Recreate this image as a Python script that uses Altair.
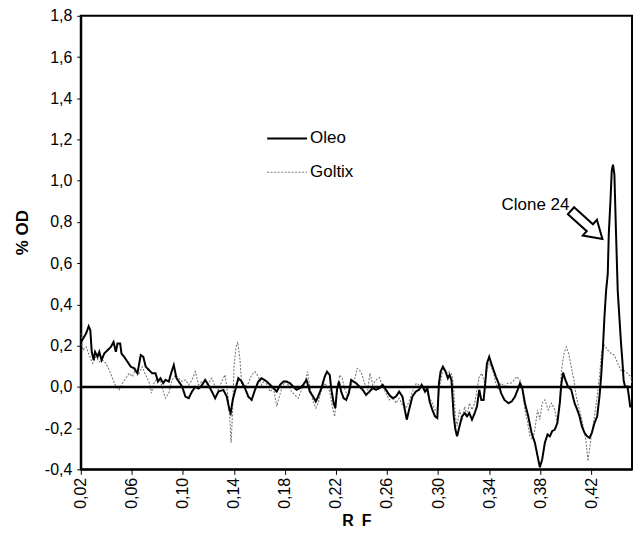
import altair as alt
import pandas as pd

# ---- data ----
oleo_x = [0.0200, 0.0203, 0.0242, 0.0262, 0.0275, 0.0286, 0.0301, 0.0312, 0.0332, 0.0345,
          0.0363, 0.0384, 0.0410, 0.0436, 0.0457, 0.0475, 0.0488, 0.0509, 0.0519, 0.0540,
          0.0566, 0.0592, 0.0618, 0.0644, 0.0670, 0.0690, 0.0709, 0.0734, 0.0760, 0.0786,
          0.0805, 0.0825, 0.0846, 0.0864, 0.0890, 0.0908, 0.0929, 0.0950, 0.0968, 0.0994,
          0.1020, 0.1046, 0.1072, 0.1098, 0.1123, 0.1149, 0.1175, 0.1201, 0.1227, 0.1253,
          0.1279, 0.1318, 0.1344, 0.1365, 0.1375, 0.1391, 0.1417, 0.1435, 0.1461, 0.1487,
          0.1513, 0.1539, 0.1565, 0.1591, 0.1617,
          0.1658, 0.1684, 0.1710, 0.1736, 0.1762, 0.1788, 0.1814, 0.1839, 0.1865, 0.1891,
          0.1917, 0.1943, 0.1969, 0.1995, 0.2021, 0.2042, 0.2060, 0.2086, 0.2112, 0.2130,
          0.2151, 0.2164, 0.2182, 0.2195, 0.2208, 0.2223, 0.2241, 0.2260, 0.2280, 0.2301,
          0.2319, 0.2337, 0.2358, 0.2384, 0.2410, 0.2436, 0.2462, 0.2488, 0.2514, 0.2540,
          0.2566, 0.2592, 0.2618, 0.2644, 0.2670, 0.2695, 0.2721, 0.2742, 0.2755, 0.2773,
          0.2799, 0.2825, 0.2851, 0.2872, 0.2898, 0.2916, 0.2934, 0.2955, 0.2976, 0.2994,
          0.3007, 0.3020, 0.3038, 0.3059, 0.3077, 0.3090, 0.3105,
          0.3123, 0.3136, 0.3149, 0.3168, 0.3188, 0.3209, 0.3227, 0.3245, 0.3266, 0.3287,
          0.3305, 0.3323, 0.3339, 0.3357, 0.3370, 0.3383, 0.3401, 0.3417, 0.3435, 0.3453,
          0.3474, 0.3494, 0.3520, 0.3552, 0.3577, 0.3603, 0.3624, 0.3642, 0.3660, 0.3681,
          0.3707, 0.3733, 0.3759, 0.3780, 0.3798, 0.3816, 0.3837, 0.3858, 0.3876, 0.3894,
          0.3915, 0.3935, 0.3954, 0.3967, 0.3980, 0.3998, 0.4018, 0.4044, 0.4070, 0.4091,
          0.4109, 0.4127, 0.4148, 0.4169, 0.4187, 0.4205, 0.4226, 0.4247, 0.4265, 0.4278,
          0.4291, 0.4304, 0.4317, 0.4330, 0.4338, 0.4351, 0.4361, 0.4371, 0.4382, 0.4395,
          0.4408, 0.4421, 0.4434, 0.4446, 0.4454, 0.4465, 0.4485, 0.4506, 0.4520]
oleo_y = [0.210, 0.218, 0.260, 0.294, 0.275, 0.170, 0.130, 0.170, 0.146, 0.170,
          0.130, 0.162, 0.178, 0.194, 0.218, 0.170, 0.210, 0.210, 0.162, 0.146,
          0.122, 0.098, 0.090, 0.066, 0.154, 0.146, 0.098, 0.082, 0.066, 0.066,
          0.026, 0.042, 0.018, 0.034, 0.026, 0.066, 0.106, 0.042, 0.026, 0.002,
          -0.047, -0.055, -0.022, 0.000, -0.008, 0.008, 0.034, 0.008, -0.022, -0.055,
          -0.022, -0.015, -0.047, -0.111, -0.127, -0.063, 0.000, 0.042, 0.026, -0.006,
          -0.047, -0.063, -0.015, 0.026, 0.042,
          0.026, 0.010, -0.006, -0.023, 0.010, 0.026, 0.026, 0.018, 0.002, -0.014,
          -0.006, 0.010, 0.034, -0.023, -0.047, -0.071, -0.047, -0.006, 0.050, 0.074,
          0.058, -0.014, -0.079, -0.103, -0.014, 0.026, -0.023, -0.055, -0.063, -0.030,
          0.034, 0.026, 0.018, 0.002, -0.014, -0.039, -0.023, -0.006, -0.014, -0.006,
          0.010, -0.014, -0.039, -0.055, -0.047, -0.023, -0.047, -0.119, -0.159, -0.111,
          -0.047, -0.023, -0.014, 0.010, -0.023, -0.006, -0.071, -0.111, -0.143, -0.151,
          0.018, 0.074, 0.098, 0.074, 0.042, 0.058, 0.034,
          -0.143, -0.207, -0.240, -0.191, -0.143, -0.127, -0.143, -0.127, -0.159, -0.127,
          -0.095, -0.014, -0.063, -0.063, 0.018, 0.114, 0.146, 0.114, 0.082, 0.050,
          0.018, -0.030, -0.063, -0.079, -0.071, -0.047, -0.014, 0.018, -0.006, -0.079,
          -0.143, -0.223, -0.271, -0.336, -0.390, -0.352, -0.271, -0.231, -0.240, -0.215,
          -0.207, -0.175, -0.079, 0.018, 0.069, 0.034, 0.002, -0.014, -0.079, -0.111,
          -0.143, -0.191, -0.223, -0.240, -0.247, -0.223, -0.175, -0.143, -0.047, 0.050,
          0.178, 0.339, 0.467, 0.548, 0.741, 0.901, 1.046, 1.078, 1.030, 0.741,
          0.467, 0.339, 0.211, 0.114, 0.034, 0.002, 0.002, -0.095, -0.095]

goltix_x = [0.0200, 0.0216, 0.0242, 0.0267, 0.0293, 0.0319, 0.0345, 0.0371, 0.0397, 0.0423,
            0.0449, 0.0475, 0.0501, 0.0527, 0.0553, 0.0579, 0.0605, 0.0631, 0.0657, 0.0682,
            0.0708, 0.0734, 0.0753, 0.0773, 0.0799, 0.0825, 0.0846, 0.0864, 0.0890, 0.0916,
            0.0942, 0.0968, 0.0994, 0.1020, 0.1046, 0.1072, 0.1098, 0.1123, 0.1149, 0.1175,
            0.1201, 0.1227, 0.1253, 0.1279, 0.1305, 0.1331, 0.1357, 0.1370, 0.1378, 0.1388,
            0.1401, 0.1417, 0.1430, 0.1448, 0.1461, 0.1487, 0.1513, 0.1539, 0.1565, 0.1591,
            0.1617, 0.1642,
            0.1658, 0.1684, 0.1710, 0.1736, 0.1749, 0.1775, 0.1801, 0.1826, 0.1852, 0.1878,
            0.1904, 0.1930, 0.1956, 0.1977, 0.1995, 0.2021, 0.2042, 0.2060, 0.2086, 0.2112,
            0.2130, 0.2151, 0.2171, 0.2190, 0.2208, 0.2229, 0.2249, 0.2267, 0.2293, 0.2319,
            0.2345, 0.2366, 0.2384, 0.2405, 0.2423, 0.2449, 0.2467, 0.2488, 0.2514, 0.2540,
            0.2566, 0.2592, 0.2618, 0.2644, 0.2670, 0.2695, 0.2721, 0.2747, 0.2773, 0.2799,
            0.2830, 0.2851, 0.2877, 0.2903, 0.2929, 0.2955, 0.2976, 0.2994, 0.3012, 0.3033,
            0.3053, 0.3072, 0.3090, 0.3110,
            0.3123, 0.3136, 0.3149, 0.3168, 0.3188, 0.3209, 0.3227, 0.3245, 0.3266, 0.3287,
            0.3305, 0.3323, 0.3344, 0.3365, 0.3383, 0.3401, 0.3417, 0.3435, 0.3453, 0.3474,
            0.3494, 0.3520, 0.3546, 0.3572, 0.3598, 0.3616, 0.3642, 0.3660, 0.3681, 0.3702,
            0.3720, 0.3741, 0.3759, 0.3780, 0.3798, 0.3816, 0.3837, 0.3863, 0.3889, 0.3915,
            0.3935, 0.3954, 0.3967, 0.3987, 0.4005, 0.4024, 0.4044, 0.4065, 0.4083, 0.4101,
            0.4122, 0.4143, 0.4161, 0.4174, 0.4187, 0.4205, 0.4226, 0.4247, 0.4265, 0.4283,
            0.4304, 0.4330, 0.4356, 0.4382, 0.4408, 0.4434, 0.4459, 0.4485, 0.4511, 0.4520]
goltix_y = [0.260, 0.178, 0.194, 0.154, 0.114, 0.146, 0.122, 0.130, 0.114, 0.082,
            0.042, 0.002, -0.014, 0.018, 0.042, 0.066, 0.050, 0.090, 0.066, 0.098,
            0.058, 0.026, -0.030, 0.018, 0.042, 0.026, -0.022, -0.055, -0.030, 0.034,
            0.058, 0.042, 0.026, 0.034, 0.010, 0.034, 0.074, 0.010, 0.026, 0.002,
            0.018, 0.042, 0.002, -0.014, 0.026, 0.058, -0.063, -0.175, -0.271, -0.143,
            0.098, 0.194, 0.218, 0.130, 0.010, 0.002, 0.018, 0.058, 0.074, 0.050,
            0.010, 0.034,
            0.010, -0.023, -0.006, -0.095, -0.063, -0.006, 0.026, 0.010, -0.023, -0.039,
            -0.055, -0.014, 0.018, 0.074, 0.002, -0.071, -0.103, -0.079, -0.014, 0.018,
            0.002, -0.023, -0.095, -0.144, -0.030, 0.058, 0.042, -0.006, -0.047, 0.010,
            0.034, 0.090, 0.082, 0.058, 0.018, -0.014, 0.066, 0.010, 0.034, 0.045,
            0.002, -0.030, -0.063, -0.047, -0.079, -0.055, -0.087, -0.103, -0.071, -0.023,
            0.018, 0.010, 0.002, -0.014, -0.047, -0.079, -0.112, -0.103, 0.002, 0.066,
            0.082, 0.066, 0.074, 0.058,
            -0.014, -0.143, -0.191, -0.111, -0.159, -0.095, -0.143, -0.079, -0.111, -0.079,
            -0.014, 0.050, 0.066, 0.018, 0.082, 0.114, 0.098, 0.066, 0.018, -0.014,
            0.018, 0.002, 0.018, 0.018, 0.034, 0.050, 0.034, -0.014, -0.111, -0.175,
            -0.240, -0.255, -0.207, -0.111, -0.159, -0.079, -0.063, -0.111, -0.079, -0.111,
            -0.175, -0.063, 0.079, 0.162, 0.194, 0.162, 0.098, 0.034, -0.047, -0.095,
            -0.143, -0.207, -0.271, -0.360, -0.304, -0.223, -0.143, -0.047, 0.050, 0.178,
            0.202, 0.178, 0.162, 0.154, 0.114, 0.079, 0.079, 0.066, 0.050, 0.018]

series_names = ["Oleo", "Goltix"]
x_ticks = [0.02, 0.04, 0.06, 0.08, 0.10, 0.12, 0.14, 0.16, 0.18, 0.20, 0.22,
           0.24, 0.26, 0.28, 0.30, 0.32, 0.34, 0.36, 0.38, 0.40, 0.42, 0.44]
y_ticks = [-0.4, -0.2, 0.0, 0.2, 0.4, 0.6, 0.8, 1.0, 1.2, 1.4, 1.6, 1.8]
x_domain = [0.02, 0.452]
y_domain = [-0.4, 1.8]

annot_label = ["Clone 24"]
annot_x = [0.4029]
annot_y = [0.884]
arrow_x = [0.4165]
arrow_y = [0.786]

FONT = "Liberation Sans"

df = pd.DataFrame({
    "rf": goltix_x + oleo_x,
    "od": goltix_y + oleo_y,
    "serie": ["Goltix"] * len(goltix_x) + ["Oleo"] * len(oleo_x),
})

x_scale = alt.Scale(domain=x_domain, nice=False, zero=False)
y_scale = alt.Scale(domain=y_domain, nice=False, zero=False)

x_axis = alt.Axis(
    values=x_ticks,
    labelExpr="(round(datum.value*100) % 4 == 2) ? replace(format(datum.value, '.2f'), '.', ',') : ''",
    labelAngle=270, labelOverlap=False, labelFlush=False, labelPadding=3,
    tickSize=5, title="R\u2002F", titlePadding=4, titleFontSize=16,
)
y_axis = alt.Axis(
    values=y_ticks,
    labelExpr="(datum.value < -0.0001 ? '-' : '') + replace(format(abs(datum.value), '.1f'), '.', ',')",
    labelOverlap=False, labelFlush=False, labelPadding=5, tickSize=4,
    title="% OD", titleAngle=270, titleX=-58, titleY=217,
    titleAlign="center", titleBaseline="middle",
)

leg = alt.Legend(title=None)

lines = alt.Chart(df).mark_line(interpolate="linear", clip=True).encode(
    x=alt.X("rf:Q", scale=x_scale, axis=x_axis),
    y=alt.Y("od:Q", scale=y_scale, axis=y_axis),
    color=alt.Color("serie:N", scale=alt.Scale(domain=series_names, range=["#000000", "#7a7a7a"]), legend=leg),
    strokeDash=alt.StrokeDash("serie:N", scale=alt.Scale(domain=series_names, range=[[1, 0], [2, 1.5]]), legend=leg),
    strokeWidth=alt.StrokeWidth("serie:N", scale=alt.Scale(domain=series_names, range=[2.0, 1.1]), legend=leg),
)

zero_rule = alt.Chart(pd.DataFrame({"v": [0.0]})).mark_rule(color="black", strokeWidth=2.5).encode(
    y=alt.Y("v:Q", scale=y_scale)
)

annot = alt.Chart(pd.DataFrame({"x": annot_x, "y": annot_y, "t": annot_label})).mark_text(
    align="right", baseline="middle", font=FONT, fontSize=17, color="black"
).encode(x=alt.X("x:Q", scale=x_scale), y=alt.Y("y:Q", scale=y_scale), text="t:N")

arrow_path = "M -1 -0.22 L 0.2 -0.22 L 0.2 -0.5 L 1 0 L 0.2 0.5 L 0.2 0.22 L -1 0.22 Z"
arrow = alt.Chart(pd.DataFrame({"x": arrow_x, "y": arrow_y})).mark_point(
    shape=arrow_path, size=1800, angle=42, filled=True, fill="white", stroke="black",
    strokeWidth=2, opacity=1
).encode(x=alt.X("x:Q", scale=x_scale), y=alt.Y("y:Q", scale=y_scale))

chart = alt.layer(lines, zero_rule, annot, arrow).properties(
    width=553, height=455,
    padding={"left": 6, "top": -1, "right": 0, "bottom": 0},
).configure_view(
    stroke="black", strokeWidth=2
).configure_axis(
    grid=False, domainColor="black", domainWidth=2, tickColor="black", tickWidth=1,
    labelFont=FONT, labelFontSize=16, labelColor="black",
    titleFont=FONT, titleFontSize=17, titleFontWeight="bold", titleColor="black",
).configure_legend(
    orient="none", legendX=186, legendY=102, symbolType="stroke", symbolSize=1600,
    labelFont=FONT, labelFontSize=17, labelColor="black", rowPadding=5,
    labelOffset=2, padding=0,
)

chart.save("out.html", embed_options={"renderer": "svg", "actions": False})
